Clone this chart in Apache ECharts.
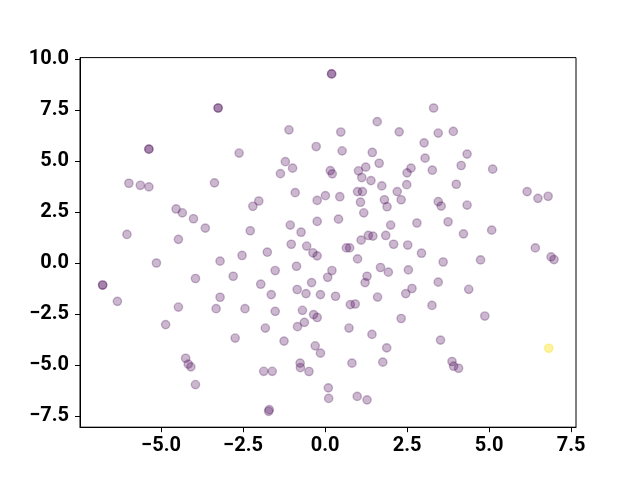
<!DOCTYPE html>
<html>
<head>
<meta charset="utf-8">
<title>scatter</title>
<script src="https://cdn.jsdelivr.net/npm/echarts@6/dist/echarts.min.js"></script>
<style>
  html, body { margin: 0; padding: 0; background: #fff; }
  #main { width: 640px; height: 480px; }
</style>
</head>
<body>
<div id="main"></div>
<script>
// point positions (duplicates are the darker dots)
var xs = [0.20, 0.20, -3.26, -3.26, -5.37, -5.37, -2.62, -1.10, 0.48, 1.59, 2.26, -0.27, 0.52, 1.44,
  -1.21, -0.99, -1.36, 0.16, 0.22, 1.02, 1.24, 1.65, 2.50, 2.62, 1.12, 1.40, 3.31, 3.45, 3.91, 3.02,
  3.05, 4.33, 3.27, 4.15, 5.11, -5.98, -5.63, -5.37, -3.37, -4.54, -4.35, -4.01, -3.65, -6.04, -4.47,
  -2.28, -5.14, -3.20, -2.53, -6.78, -6.78, -3.95, -2.80, -3.20, -6.33, 1.73, 2.49, -0.91, -2.02,
  -2.20, -0.24, 0.01, 0.45, 0.99, 1.14, 1.08, 1.18, 2.20, 2.32, 1.81, 1.89, -0.24, 0.41, -1.06, -0.73,
  2.00, 1.10, 1.32, 1.46, 1.85, 2.09, 2.52, -1.03, -0.56, -0.37, -0.24, 0.65, 0.75, 0.99, -1.76,
  -0.87, -1.52, 0.21, 0.08, 1.69, 1.93, 1.28, 1.22, 2.54, -1.96, -0.41, -1.64, -0.85, -0.58, -0.14,
  0.32, 1.60, 2.46, 4.00, 6.16, 6.49, 6.80, 3.45, 3.54, 4.33, 2.80, 3.75, 4.22, 5.08, 2.94, 3.60,
  4.74, 6.41, 6.89, 6.98, 3.45, 2.65, 4.38, -4.47, -4.86, -3.32, -2.44, -2.74, -4.25, -4.17, -4.09,
  -3.95, -1.52, -0.69, -0.35, -0.24, -0.63, -0.84, -1.82, 0.77, 0.92, 2.32, 0.73, 1.43, -1.25, -0.30,
  -0.14, 1.88, 0.82, 1.76, -1.87, -1.61, -0.76, -0.75, -0.49, 0.10, 0.11, 0.98, 1.28, -1.70, -1.72,
  3.26, 4.87, 3.52, 3.87, 3.92, 4.07, 6.82];
var ys = [9.27, 9.27, 7.60, 7.60, 5.58, 5.58, 5.39, 6.53, 6.42, 6.93, 6.43, 5.71, 5.50, 5.42,
  4.97, 4.65, 4.38, 4.53, 4.37, 4.52, 4.70, 4.89, 4.42, 4.65, 4.19, 4.04, 7.60, 6.37, 6.45, 5.89,
  5.14, 5.34, 4.55, 4.78, 4.60, 3.91, 3.81, 3.73, 3.93, 2.65, 2.46, 2.17, 1.71, 1.40, 1.16,
  1.58, 0.00, 0.09, 0.37, -1.08, -1.08, -0.76, -0.65, -1.68, -1.88, 3.78, 3.84, 3.45, 3.04,
  2.78, 3.07, 3.30, 3.25, 3.50, 3.50, 2.98, 2.46, 3.50, 3.10, 3.10, 2.76, 2.04, 2.15, 1.86, 1.51,
  1.86, 1.12, 1.35, 1.32, 1.35, 0.92, 0.88, 0.92, 0.83, 0.50, 0.35, 0.74, 0.74, 0.20, 0.53,
  -0.16, -0.37, -0.37, -0.70, -0.22, -0.45, -0.65, -0.96, -0.34, -1.04, -0.96, -1.55, -1.30, -1.50, -1.55,
  -1.63, -1.67, -1.50, 3.86, 3.50, 3.17, 3.27, 3.01, 2.79, 2.84, 1.96, 2.02, 1.43, 1.61, 0.48, 0.05,
  0.15, 0.74, 0.30, 0.17, -0.94, -1.25, -1.29, -2.16, -3.02, -2.24, -2.24, -3.68, -4.67, -4.96, -5.09,
  -5.96, -2.37, -2.32, -2.53, -2.67, -2.91, -3.12, -3.19, -2.04, -2.01, -2.72, -3.19, -3.50, -3.83, -4.06,
  -4.42, -4.16, -4.91, -4.86, -5.31, -5.31, -4.91, -5.13, -5.32, -6.12, -6.64, -6.54, -6.71, -7.19, -7.27,
  -2.08, -2.60, -3.78, -4.83, -5.06, -5.16, -4.18];
// colour value per point: 0 = low end (purple), 1 = high end (yellow)
var cs = [];
for (var i = 0; i < xs.length; i++) cs.push(i === xs.length - 1 ? 1 : 0);

var xTicks = [-5.0, -2.5, 0.0, 2.5, 5.0, 7.5];
var yTicks = [-7.5, -5.0, -2.5, 0.0, 2.5, 5.0, 7.5, 10.0];
var xRange = [-7.47, 7.65];
var yRange = [-8.05, 10.07];

var colors = ['rgba(68,1,84,0.35)', 'rgba(250,228,40,0.55)'];

var data = [];
for (var i = 0; i < xs.length; i++) {
    data.push({
        value: [xs[i], ys[i]],
        itemStyle: { color: colors[cs[i]], borderColor: colors[cs[i]] }
    });
}

function fmt(v) {
    return v.toFixed(1).replace('-', '\u2212');
}

var axisText = {
    color: '#000',
    fontSize: 20,
    fontWeight: 'bold',
    fontFamily: 'Roboto'
};

var myChart = echarts.init(document.getElementById('main'));
var option = {
    animation: false,
    backgroundColor: '#fff',
    grid: {
        left: 80, right: 64, top: 57.6, bottom: 52.8,
        show: true, borderColor: '#000', borderWidth: 1
    },
    xAxis: {
        type: 'value',
        min: xRange[0], max: xRange[1],
        splitLine: { show: false },
        axisLine: { show: true, onZero: false, lineStyle: { color: '#000' } },
        axisTick: { show: true, length: 5, customValues: xTicks, lineStyle: { color: '#000' } },
        axisLabel: Object.assign({ customValues: xTicks, margin: 9, formatter: fmt }, axisText)
    },
    yAxis: {
        type: 'value',
        min: yRange[0], max: yRange[1],
        splitLine: { show: false },
        axisLine: { show: true, onZero: false, lineStyle: { color: '#000' } },
        axisTick: { show: true, length: 5, customValues: yTicks, lineStyle: { color: '#000' } },
        axisLabel: Object.assign({ customValues: yTicks, margin: 11, formatter: fmt }, axisText)
    },
    series: [{
        type: 'scatter',
        symbolSize: 8.3,
        itemStyle: { borderWidth: 1.4 },
        data: data
    }]
};
myChart.setOption(option);
</script>
</body>
</html>
